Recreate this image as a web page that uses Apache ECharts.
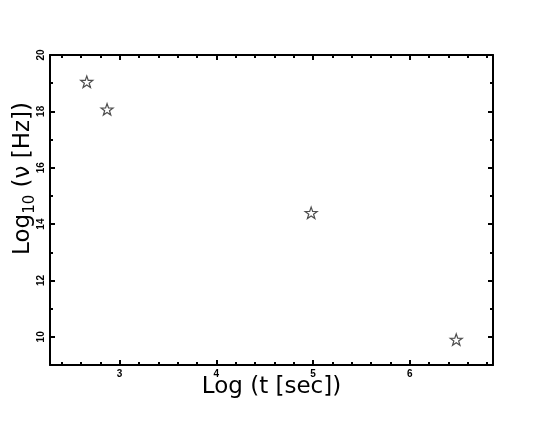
<!DOCTYPE html>
<html>
<head>
<meta charset="utf-8">
<script src="https://cdn.jsdelivr.net/npm/echarts@6/dist/echarts.min.js"></script>
<style>html,body{margin:0;padding:0;background:#fff;}#c{width:545px;height:421px;}</style>
</head>
<body>
<div id="c"></div>
<script>
// Data
const logTime = [2.66, 2.87, 4.98, 6.48];
const logFreq = [19.05, 18.07, 14.40, 9.90];

// Axis ranges and tick labels
const xRange = [2.28, 6.86];
const yRange = [9, 20];
const xMajorTicks = [3, 4, 5, 6];
const xMinorTicks = [2.4, 2.6, 2.8, 3.2, 3.4, 3.6, 3.8, 4.2, 4.4, 4.6, 4.8, 5.2, 5.4, 5.6, 5.8, 6.2, 6.4, 6.6, 6.8];
const yMajorTicks = [10, 12, 14, 16, 18, 20];
const yMinorTicks = [11, 13, 15, 17, 19];

const STAR = 'path://M0,-10 L2.35,-3.24 L9.51,-3.09 L3.8,1.24 L5.88,8.09 L0,4 L-5.88,8.09 L-3.8,1.24 L-9.51,-3.09 L-2.35,-3.24 Z';

function axisBase(range, pos, ticks, len, showLine, label) {
  return {
    type: 'value',
    position: pos,
    min: range[0],
    max: range[1],
    scale: true,
    splitLine: { show: false },
    axisLine: { show: showLine, onZero: false, lineStyle: { color: '#000', width: 2 } },
    axisTick: { show: true, inside: true, length: len, customValues: ticks, lineStyle: { color: '#000', width: 2 } },
    axisLabel: label ? label : { show: false },
    nameMoveOverlap: false
  };
}

const xLabel = { show: true, customValues: xMajorTicks, margin: 4, color: '#000', fontSize: 10, fontWeight: 'bold', fontFamily: 'Liberation Sans, Arial, sans-serif' };
const yLabel = { show: true, customValues: yMajorTicks, margin: 4, rotate: 90, color: '#000', fontSize: 10, fontWeight: 'bold', fontFamily: 'Liberation Sans, Arial, sans-serif' };

const x0 = axisBase(xRange, 'bottom', xMajorTicks, 5, true, xLabel);
x0.name = 'Log (t [sec])';
x0.nameLocation = 'middle';
x0.nameGap = 11;
x0.nameTextStyle = { color: '#000', fontSize: 23, fontFamily: 'DejaVu Sans, sans-serif' };

const y0 = axisBase(yRange, 'left', yMajorTicks, 5, true, yLabel);
y0.name = '{a|Log}{b|10}{a| (ν [Hz])}';
y0.nameLocation = 'middle';
y0.nameGap = 12;
y0.nameTextStyle = {
  color: '#000', fontSize: 23, fontFamily: 'DejaVu Sans, sans-serif',
  padding: [0, 0, 0, 63],
  rich: {
    a: { fontSize: 23, lineHeight: 30, verticalAlign: 'middle', color: '#000', fontFamily: 'DejaVu Sans, sans-serif' },
    b: { fontSize: 15, lineHeight: 14, verticalAlign: 'bottom', color: '#000', fontFamily: 'DejaVu Sans, sans-serif' }
  }
};

const option = {
  animation: false,
  backgroundColor: '#fff',
  grid: { left: 50, right: 52, top: 55, bottom: 56, containLabel: false, outerBoundsMode: 'none' },
  xAxis: [
    x0,
    axisBase(xRange, 'bottom', xMinorTicks, 3, false, null),
    axisBase(xRange, 'top', xMajorTicks, 5, true, null),
    axisBase(xRange, 'top', xMinorTicks, 3, false, null)
  ],
  yAxis: [
    y0,
    axisBase(yRange, 'left', yMinorTicks, 3, false, null),
    axisBase(yRange, 'right', yMajorTicks, 5, true, null),
    axisBase(yRange, 'right', yMinorTicks, 3, false, null)
  ],
  series: [{
    type: 'scatter',
    xAxisIndex: 0,
    yAxisIndex: 0,
    symbol: STAR,
    symbolSize: 12,
    symbolKeepAspect: true,
    itemStyle: { color: 'rgba(255,255,255,0)', borderColor: '#222', borderWidth: 1.2 },
    data: logTime.map((t, i) => [t, logFreq[i]])
  }]
};

const chart = echarts.init(document.getElementById('c'), null, { renderer: 'canvas' });
chart.setOption(option);
</script>
</body>
</html>
